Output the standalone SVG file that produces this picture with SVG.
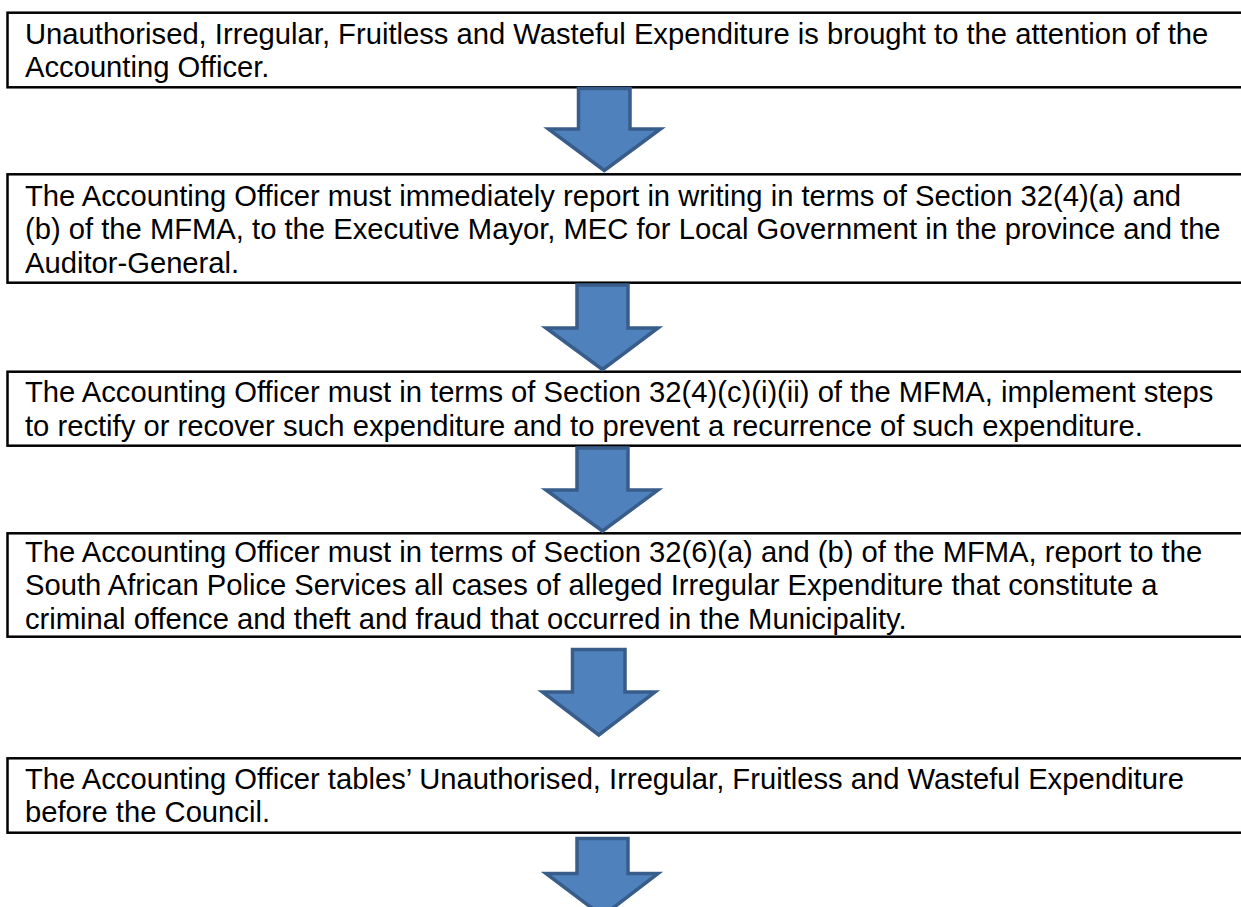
<svg xmlns="http://www.w3.org/2000/svg" width="1241" height="907" viewBox="0 0 1241 907">
<style>
.box{fill:#ffffff;stroke:#000000;stroke-width:2.5}
.t{font-family:"Liberation Sans",Arial,sans-serif;font-size:29.2px;fill:#000000}
.arr{fill:#4F81BD;stroke:#385D8A;stroke-width:3.5;stroke-linejoin:miter}
</style>
<rect x="0" y="0" width="1241" height="907" fill="#ffffff"/>
<g id="node1">
<rect class="box" x="7.5" y="12.7" width="1260" height="74.6"/>
<text class="t" x="25" y="43.5">Unauthorised, Irregular, Fruitless and Wasteful Expenditure is brought to the attention of the</text>
<text class="t" x="25" y="77">Accounting Officer.</text>
</g>
<g id="node2">
<rect class="box" x="7.5" y="174.3" width="1260" height="108.4"/>
<text class="t" x="25" y="205.7">The Accounting Officer must immediately report in writing in terms of Section 32(4)(a) and</text>
<text class="t" x="25" y="239.2">(b) of the MFMA, to the Executive Mayor, MEC for Local Government in the province and the</text>
<text class="t" x="25" y="272.7">Auditor-General.</text>
</g>
<g id="node3">
<rect class="box" x="7.5" y="371.7" width="1260" height="74"/>
<text class="t" x="25" y="402.2">The Accounting Officer must in terms of Section 32(4)(c)(i)(ii) of the MFMA, implement steps</text>
<text class="t" x="25" y="435.7">to rectify or recover such expenditure and to prevent a recurrence of such expenditure.</text>
</g>
<g id="node4">
<rect class="box" x="7.5" y="533.3" width="1260" height="103.4"/>
<text class="t" x="25" y="562">The Accounting Officer must in terms of Section 32(6)(a) and (b) of the MFMA, report to the</text>
<text class="t" x="25" y="595.3">South African Police Services all cases of alleged Irregular Expenditure that constitute a</text>
<text class="t" x="25" y="628.6">criminal offence and theft and fraud that occurred in the Municipality.</text>
</g>
<g id="node5">
<rect class="box" x="7.5" y="758.3" width="1260" height="74.4"/>
<text class="t" x="25" y="788.8">The Accounting Officer tables’ Unauthorised, Irregular, Fruitless and Wasteful Expenditure</text>
<text class="t" x="25" y="822.3">before the Council.</text>
</g>
<g id="connectors">
<path class="arr" d="M578.5,88.5 H630 V129 H660.5 L604.3,170.5 L548.5,129 H578.5 Z"/>
<path class="arr" d="M577,285 H628 V328 H658 L602.5,369.5 L546,328 H577 Z"/>
<path class="arr" d="M577,448 H628 V490 H658 L602.5,531 L546,490 H577 Z"/>
<path class="arr" d="M572.5,649.5 H625 V692 H655 L598.8,735 L542.5,692 H572.5 Z"/>
<path class="arr" d="M577,838.5 H628 V873.5 H658 L602.5,916 L546,873.5 H577 Z"/>
</g>
</svg>
